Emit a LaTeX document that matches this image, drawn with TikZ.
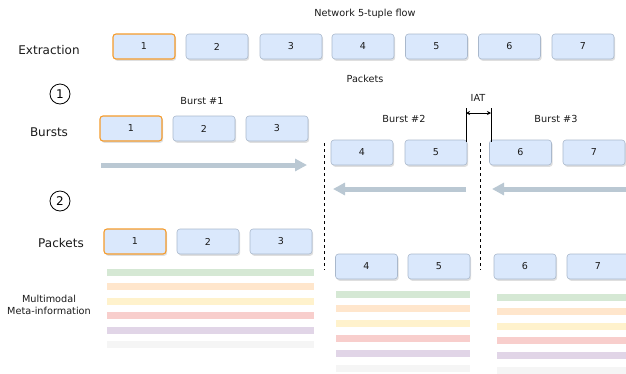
\documentclass[tikz,border=0pt]{standalone}
\usepackage{fontspec}
\setmainfont{DejaVu Sans}
\usetikzlibrary{arrows.meta,shadows}
\definecolor{boxfill}{HTML}{DAE8FC}
\definecolor{boxline}{HTML}{A9B8CC}
\definecolor{hilite}{HTML}{F59B2B}
\definecolor{flowarrow}{HTML}{BAC8D3}
\definecolor{mgreen}{HTML}{D5E8D4}
\definecolor{morange}{HTML}{FFE6CC}
\definecolor{myellow}{HTML}{FFF2CC}
\definecolor{mred}{HTML}{F8CECC}
\definecolor{mpurple}{HTML}{E1D5E7}
\definecolor{mgray}{HTML}{F5F5F5}
\definecolor{txt}{HTML}{1A1A1A}
\tikzset{
  pkt/.style={draw=boxline, fill=boxfill, rounded corners=3pt, minimum width=62pt,
    minimum height=25pt, inner sep=0pt, line width=0.6pt, font=\fontsize{9.5}{10}\selectfont, text=txt,
    drop shadow={opacity=0.25, shadow xshift=1.2pt, shadow yshift=-1.8pt}},
  pktsel/.style={pkt, draw=hilite, line width=1.1pt},
  biglabel/.style={font=\fontsize{12}{14}\selectfont, text=txt, inner sep=0pt},
  smalllabel/.style={font=\fontsize{9.7}{12.3}\selectfont, text=txt, inner sep=0pt},
  stepcircle/.style={circle, draw=black, line width=0.8pt, minimum size=20pt, inner sep=0pt,
    font=\fontsize{12}{14}\selectfont},
  flow/.style={draw=flowarrow, line width=5pt, -{Triangle[length=12pt,width=12pt]}},
  sep/.style={draw=black, line width=1pt, dash pattern=on 3pt off 3pt},
  metabar/.style={line width=7pt},
}
\begin{document}
\begin{tikzpicture}[x=1pt,y=-1pt]
\useasboundingbox (0,0) rectangle (626,373);
% titles
\node[smalllabel] (title) at (365,14) {Network 5-tuple flow};
\node[biglabel] (lext) at (49,50) {Extraction};
\node[smalllabel] (lpk) at (365,79) {Packets};
% extraction row
\node[pktsel] (e1) at (144,46.5) {1};
\node[pkt] (e2) at (217,46.5) {2};
\node[pkt] (e3) at (291,46.5) {3};
\node[pkt] (e4) at (363,46.5) {4};
\node[pkt] (e5) at (436.5,46.5) {5};
\node[pkt] (e6) at (509.5,46.5) {6};
\node[pkt] (e7) at (583,46.5) {7};
% step 1
\node[stepcircle] (s1) at (60,94) {1};
\node[biglabel] (lbu) at (49,132) {Bursts};
\node[smalllabel] (b1l) at (202,101) {Burst \#1};
\node[smalllabel] (b2l) at (404,119) {Burst \#2};
\node[smalllabel] (b3l) at (556,119) {Burst \#3};
\node[smalllabel] (iat) at (478,98) {IAT};
\node[pktsel] (b1) at (131,128.5) {1};
\node[pkt] (b2) at (204,128.5) {2};
\node[pkt] (b3) at (277,128.5) {3};
\node[pkt] (b4) at (362,152.5) {4};
\node[pkt] (b5) at (436,152.5) {5};
\node[pkt] (b6) at (520.5,152.5) {6};
\node[pkt] (b7) at (594,152.5) {7};
% IAT marker
\coordinate (ia1) at (466,108);
\coordinate (ia2) at (466,142);
\coordinate (ib1) at (491,108);
\coordinate (ib2) at (491,142);
\draw[line width=0.8pt] (ia1) -- (ia2);
\draw[line width=0.8pt] (ib1) -- (ib2);
\coordinate (iaa) at (466,113);
\coordinate (iab) at (491,113);
\draw[line width=0.8pt, {Stealth[length=4pt,width=4pt]}-{Stealth[length=4pt,width=4pt]}] (iaa) -- (iab);
% flow arrows
\coordinate (f1a) at (101,165);
\coordinate (f1b) at (307,165);
\draw[flow] (f1a) -- (f1b);
\coordinate (f2a) at (466,189);
\coordinate (f2b) at (333,189);
\draw[flow] (f2a) -- (f2b);
\coordinate (f3a) at (627,189);
\coordinate (f3b) at (492,189);
\draw[flow] (f3a) -- (f3b);
% separators
\coordinate (d1a) at (324,143);
\coordinate (d1b) at (324,270);
\coordinate (d2a) at (480,143);
\coordinate (d2b) at (480,270);
\draw[sep] (d1a) -- (d1b);
\draw[sep] (d2a) -- (d2b);
% step 2
\node[stepcircle] (s2) at (60,201) {2};
\node[biglabel] (lpa) at (61,243) {Packets};
\node[pktsel] (p1) at (135,241.5) {1};
\node[pkt] (p2) at (208,241.5) {2};
\node[pkt] (p3) at (281,241.5) {3};
\node[pkt] (p4) at (366.5,266.5) {4};
\node[pkt] (p5) at (439,266.5) {5};
\node[pkt] (p6) at (525,266.5) {6};
\node[pkt] (p7) at (598,266.5) {7};
\node[smalllabel, align=center] (lmm) at (49,305) {Multimodal\\Meta-information};
% meta bars
\foreach \c [count=\i] in {mgreen,morange,myellow,mred,mpurple,mgray}{
  \pgfmathsetmacro{\ya}{272+14.5*(\i-1)}
  \pgfmathsetmacro{\yb}{294+14.9*(\i-1)}
  \pgfmathsetmacro{\yc}{297+14.6*(\i-1)}
  \draw[metabar, draw=\c] (107,\ya) -- (314,\ya);
  \draw[metabar, draw=\c] (336,\yb) -- (470,\yb);
  \draw[metabar, draw=\c] (497,\yc) -- (626,\yc);
}
\end{tikzpicture}
\end{document}
